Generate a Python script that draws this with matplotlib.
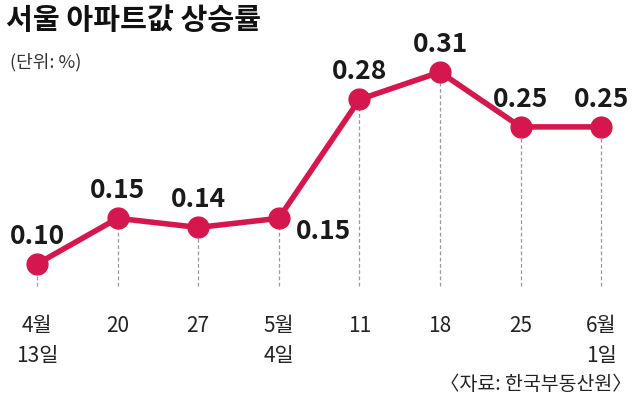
import matplotlib
matplotlib.use("Agg")
import matplotlib.pyplot as plt

plt.rcParams['font.family'] = ['Noto Sans CJK KR', 'DejaVu Sans']

dates_top = ["4월", "20", "27", "5월", "11", "18", "25", "6월"]
dates_bot = ["13일", "", "", "4일", "", "", "", "1일"]
values = [0.10, 0.15, 0.14, 0.15, 0.28, 0.31, 0.25, 0.25]
labels = ["0.10", "0.15", "0.14", "0.15", "0.28", "0.31", "0.25", "0.25"]

W, H = 640, 414
fig = plt.figure(figsize=(6.4, 4.14), dpi=100)
ax = fig.add_axes([0, 0, 1, 1])
step = 80.6
x0 = 37
ax.set_xlim(-x0 / step, (W - x0) / step)
ppu = 914
ax.set_ylim(0.10 - (H - 265) / ppu, 0.10 + 265 / ppu)
ax.axis('off')

color = '#d6174d'
xs = list(range(len(values)))
bottom = 0.10 - 22 / ppu
for x, v in zip(xs, values):
    ax.plot([x, x], [bottom, v], ls=(0, (3, 2)), color='#999999', lw=0.9, zorder=1)
ax.plot(xs, values, color=color, lw=4, marker='o', ms=15, zorder=3)

offsets = [(0, 11), (0, 11), (0, 11), (0.55, -9), (0, 11), (0, 11), (0, 11), (0, 11)]
for x, v, l, (dx, dy) in zip(xs, values, labels, offsets):
    ax.annotate(l, (x + dx, v), xytext=(0, dy), textcoords='offset points',
                ha='center', va='bottom' if dy > 0 else 'center',
                fontsize=19, fontweight='bold', color='#1a1a1a')

for x, t, b in zip(xs, dates_top, dates_bot):
    xp = (x0 + step * x) / W
    fig.text(xp, 1 - 326 / H, t, ha='center', va='center', fontsize=15, color='#222222')
    if b:
        fig.text(xp, 1 - 356 / H, b, ha='center', va='center', fontsize=15, color='#222222')

fig.text(6 / W, 1 - 20 / H, "서울 아파트값 상승률", fontsize=21, fontweight='bold',
         va='center', ha='left', color='#111111')
fig.text(10 / W, 1 - 62 / H, "(단위: %)", fontsize=13, va='center', ha='left', color='#333333')
fig.text(632 / W, 1 - 385 / H, "〈자료: 한국부동산원〉", fontsize=14, va='center', ha='right', color='#222222')

fig.savefig("out.png", dpi=100, facecolor='white')
